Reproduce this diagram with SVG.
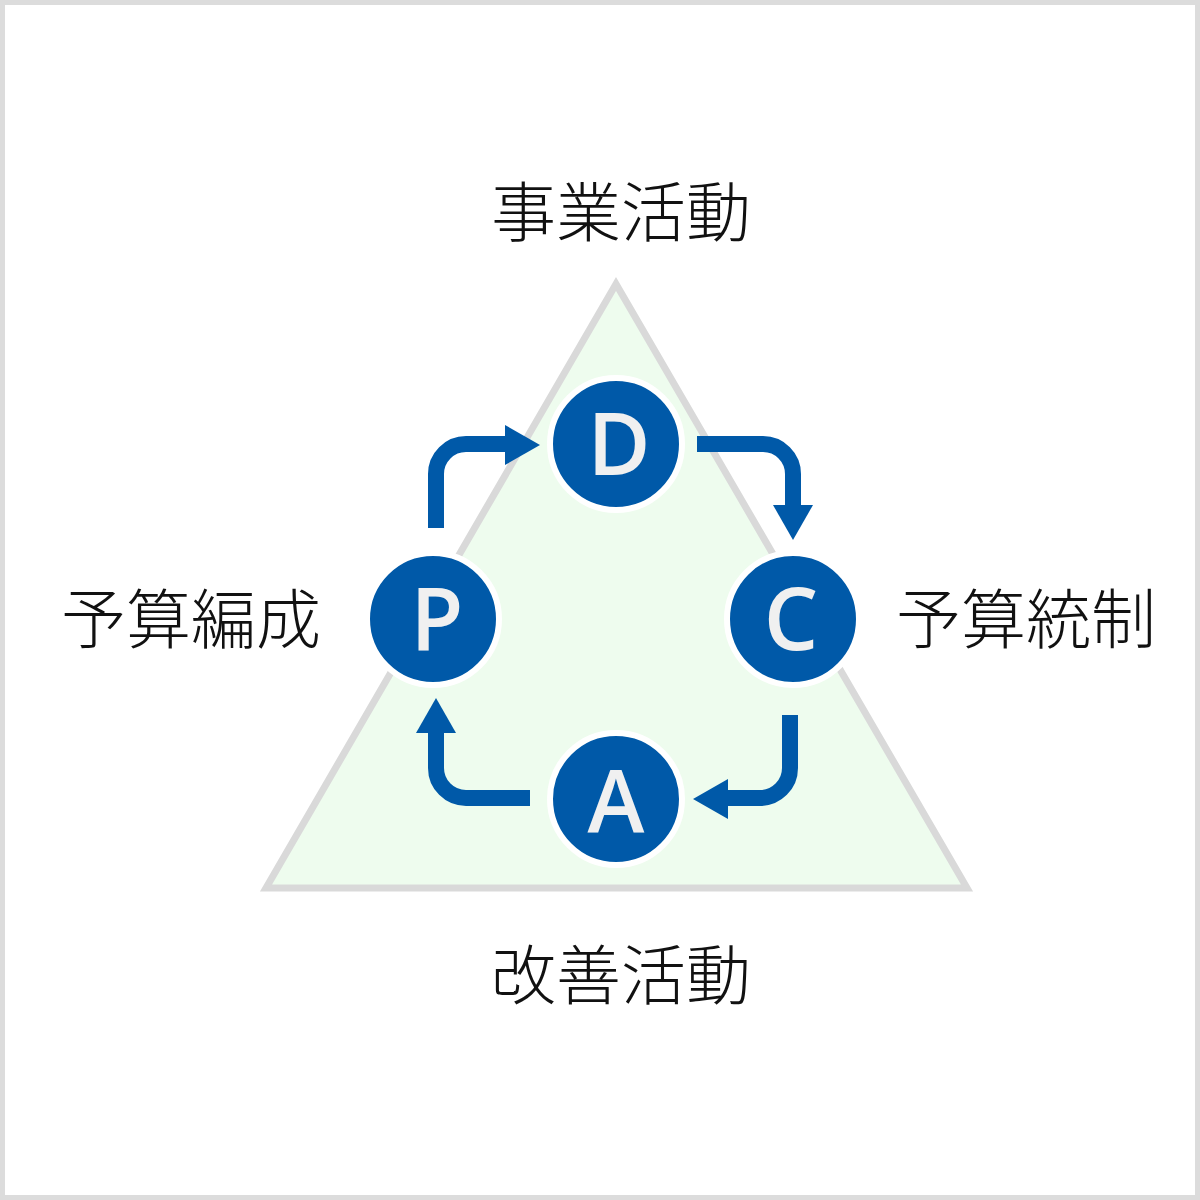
<svg xmlns="http://www.w3.org/2000/svg" width="1200" height="1200" viewBox="0 0 1200 1200">
<defs>
<style>
.lbl{font-family:"Noto Sans CJK JP","Noto Sans",sans-serif;font-size:65px;font-weight:300;fill:#111;text-anchor:middle}
.node circle{fill:#0059a8;stroke:#fff;stroke-width:6}
.node text{font-family:"Open Sans","Noto Sans",sans-serif;font-size:86px;font-weight:600;fill:#f0f0f0;text-anchor:middle}
.arr{fill:none;stroke:#0059a8;stroke-width:16}
.head{fill:#0059a8}
</style>
</defs>
<rect x="2.5" y="2.5" width="1195" height="1195" fill="#fff" stroke="#dcdcdc" stroke-width="5"/>
<polygon points="616,284 266,888 967,888" fill="#eefcee" stroke="#d9d9d9" stroke-width="7"/>
<g id="labels">
<text class="lbl" x="621" y="236">事業活動</text>
<text class="lbl" x="191" y="643">予算編成</text>
<text class="lbl" x="1026" y="643">予算統制</text>
<text class="lbl" x="621" y="999">改善活動</text>
</g>
<g id="connectors">
<path class="arr" d="M436,528 V474 A30,30 0 0 1 466,444 H510"/>
<polygon class="head" points="505,425 540,445 505,465"/>
<path class="arr" d="M697,444 H763 A30,30 0 0 1 793,474 V508"/>
<polygon class="head" points="773,505 793,540 813,505"/>
<path class="arr" d="M790,715 V768 A30,30 0 0 1 760,798 H725"/>
<polygon class="head" points="728,779 693,799 728,819"/>
<path class="arr" d="M530,798 H466 A30,30 0 0 1 436,768 V730"/>
<polygon class="head" points="416,733 436,698 456,733"/>
</g>
<g id="D" class="node"><circle cx="616" cy="444" r="66"/><text x="619" y="475">D</text></g>
<g id="C" class="node"><circle cx="793" cy="619" r="66"/><text x="791" y="650">C</text></g>
<g id="P" class="node"><circle cx="433" cy="619" r="66"/><text x="437" y="650">P</text></g>
<g id="A" class="node"><circle cx="616" cy="799" r="66"/><text x="616" y="832">A</text></g>
</svg>
